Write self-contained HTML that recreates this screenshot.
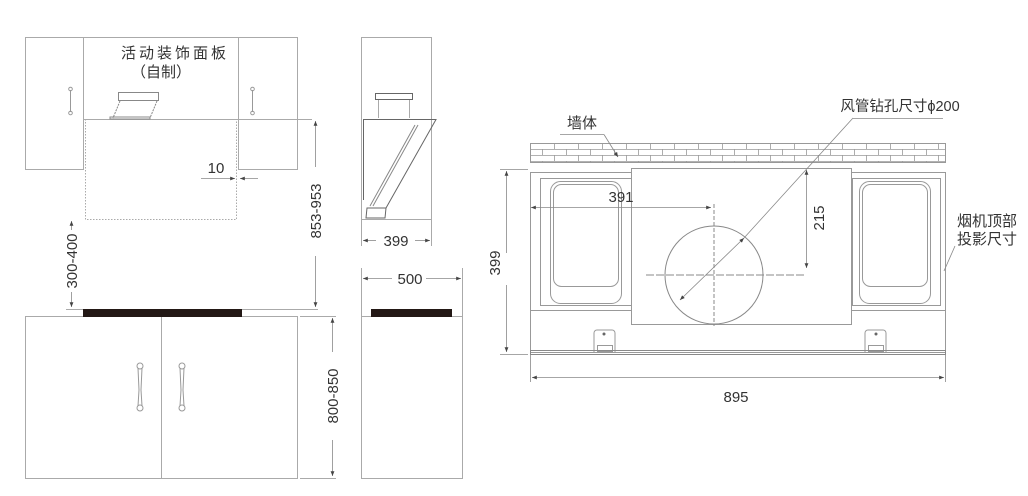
<!DOCTYPE html>
<html><head><meta charset="utf-8"><style>
html,body{margin:0;padding:0;background:#fff;}
svg{display:block;}
text{font-family:"Liberation Sans","Noto Sans CJK SC",sans-serif;fill:#333;}
</style></head><body>
<svg width="1028" height="496" viewBox="0 0 1028 496" xmlns="http://www.w3.org/2000/svg">
<defs>
<marker id="a" viewBox="0 0 10 10" refX="10" refY="5" markerWidth="6" markerHeight="6" orient="auto-start-reverse"><path d="M0,1 L10,5 L0,9 z" fill="#444"/></marker>
<pattern id="brick" x="530" y="143" width="24" height="12" patternUnits="userSpaceOnUse">
<rect width="24" height="12" fill="#fff"/>
<path d="M0,0.5H24M0,6.5H24M0.5,0V6M12.5,6V12" stroke="#999" stroke-width="0.8" fill="none"/>
</pattern>
</defs>
<g fill="none" stroke="#aaa" stroke-width="1">
<rect x="25.5" y="37.5" width="58" height="132"/>
<rect x="238.5" y="37.5" width="59" height="132"/>
<line x1="83" y1="37.5" x2="238" y2="37.5"/>
<line x1="83" y1="119.5" x2="312" y2="119.5"/>
<rect x="85.5" y="119.5" width="151" height="100" stroke-dasharray="1.5,1.5"/>
<rect x="118.5" y="92.5" width="40" height="8" stroke="#888"/>
<path d="M120,101 L113,118 M157,101 L150,118" stroke="#888" stroke-dasharray="2,1"/>
<rect x="110" y="117" width="40" height="2" stroke="#888"/>
<line x1="70.5" y1="90" x2="70.5" y2="112" stroke="#999"/><circle cx="70.5" cy="89" r="1.8" stroke="#999"/><circle cx="70.5" cy="113" r="1.8" stroke="#999"/>
<line x1="252.5" y1="90" x2="252.5" y2="112" stroke="#999"/><circle cx="252.5" cy="89" r="1.8" stroke="#999"/><circle cx="252.5" cy="113" r="1.8" stroke="#999"/>
<rect x="25.5" y="316.5" width="272" height="162"/>
<line x1="161.5" y1="316" x2="161.5" y2="478"/>
<path d="M138,368 L139,390 L138,406 M142,368 L141,390 L142,406" stroke="#999"/><circle cx="140" cy="366" r="3" stroke="#999"/><circle cx="140" cy="408" r="3" stroke="#999"/>
<path d="M180,368 L181,390 L180,406 M184,368 L183,390 L184,406" stroke="#999"/><circle cx="182" cy="366" r="3" stroke="#999"/><circle cx="182" cy="408" r="3" stroke="#999"/>
<line x1="66" y1="309.5" x2="83" y2="309.5"/>
<line x1="242" y1="309.5" x2="318" y2="309.5"/>
<line x1="300" y1="316.5" x2="336" y2="316.5"/>
<line x1="300" y1="478.5" x2="336" y2="478.5"/>
<rect x="361.5" y="37.5" width="70" height="182"/>
<rect x="361.5" y="316.5" width="101" height="162"/>
<line x1="361.5" y1="219" x2="361.5" y2="246"/><line x1="431.5" y1="219" x2="431.5" y2="246"/>
<line x1="361.5" y1="268" x2="361.5" y2="316"/><line x1="462.5" y1="268" x2="462.5" y2="316"/>
</g>
<g fill="none" stroke="#666" stroke-width="1">
<rect x="375.5" y="93.5" width="37" height="6"/>
<line x1="378.5" y1="100" x2="378.5" y2="118" stroke="#aaa"/><line x1="409.5" y1="100" x2="409.5" y2="118" stroke="#aaa"/>
<path d="M364,119.5 L436,119.5 L386,208 L367,208 L366,218 L385,218 L386,208"/>
<line x1="363.5" y1="119" x2="363.5" y2="200"/>
<path d="M415,125 L370,206 M418,125 L373,206" stroke="#888"/>
</g>
<rect x="83" y="309" width="159" height="8" fill="#231815"/>
<rect x="371" y="309" width="81" height="8" fill="#231815"/>
<g stroke="#888" stroke-width="0.8" fill="none">
<line x1="315.5" y1="121" x2="315.5" y2="167" marker-start="url(#a)"/>
<line x1="315.5" y1="256" x2="315.5" y2="307" marker-end="url(#a)"/>
<line x1="71.5" y1="221" x2="71.5" y2="230" marker-start="url(#a)"/>
<line x1="71.5" y1="292" x2="71.5" y2="307" marker-end="url(#a)"/>
<line x1="332.5" y1="318" x2="332.5" y2="352" marker-start="url(#a)"/>
<line x1="332.5" y1="440" x2="332.5" y2="476" marker-end="url(#a)"/>
<line x1="201" y1="178.5" x2="235" y2="178.5" marker-end="url(#a)"/>
<line x1="258" y1="178.5" x2="240" y2="178.5" marker-end="url(#a)"/>
<line x1="363" y1="240.5" x2="376" y2="240.5" marker-start="url(#a)"/>
<line x1="415" y1="240.5" x2="430" y2="240.5" marker-end="url(#a)"/>
<line x1="363" y1="278.5" x2="392" y2="278.5" marker-start="url(#a)"/>
<line x1="426" y1="278.5" x2="461" y2="278.5" marker-end="url(#a)"/>
</g>
<text x="175" y="58" font-size="15" letter-spacing="3" text-anchor="middle">活动装饰面板</text>
<text x="161" y="77" font-size="15" text-anchor="middle">（自制）</text>
<text x="216" y="173" font-size="15" text-anchor="middle">10</text>
<text x="396" y="246" font-size="15" text-anchor="middle">399</text>
<text x="410" y="284" font-size="15" text-anchor="middle">500</text>
<text transform="translate(321,211) rotate(-90)" font-size="15" text-anchor="middle">853-953</text>
<text transform="translate(77,261) rotate(-90)" font-size="15" text-anchor="middle">300-400</text>
<text transform="translate(338,396) rotate(-90)" font-size="15" text-anchor="middle">800-850</text>
<rect x="530.5" y="143.5" width="415" height="19" fill="url(#brick)" stroke="#999"/>
<g fill="none" stroke="#999" stroke-width="1">
<rect x="530.5" y="172.5" width="415" height="180"/>
<line x1="530" y1="310.5" x2="945" y2="310.5"/>
<rect x="540.5" y="178.5" width="91" height="127"/>
<rect x="852.5" y="178.5" width="88" height="127"/>
<rect x="550.5" y="181.5" width="71" height="122" rx="10"/>
<rect x="553.5" y="184.5" width="65" height="102" rx="8"/>
<rect x="859.5" y="181.5" width="71" height="122" rx="10"/>
<rect x="862.5" y="184.5" width="65" height="102" rx="8"/>
<rect x="631.5" y="168.5" width="220" height="156" fill="#fff"/>
<circle cx="714" cy="275" r="49" stroke="#888"/>
<line x1="714" y1="204" x2="714" y2="326" stroke="#888" stroke-dasharray="4,2"/>
<line x1="646" y1="275" x2="805" y2="275" stroke="#888" stroke-dasharray="8,2"/>
<path d="M594,352 V333 a3,3 0 0 1 3,-3 H612 a3,3 0 0 1 3,3 V352"/>
<rect x="597.5" y="345.5" width="15" height="6"/>
<path d="M865,352 V333 a3,3 0 0 1 3,-3 H883 a3,3 0 0 1 3,3 V352"/>
<rect x="868.5" y="345.5" width="15" height="6"/>
<rect x="530.5" y="350.5" width="415" height="4" stroke="#888"/>
</g>
<circle cx="604" cy="334" r="1.5" fill="#666"/><circle cx="876" cy="334" r="1.5" fill="#666"/>
<g stroke="#888" stroke-width="0.8" fill="none">
<line x1="506.5" y1="171" x2="506.5" y2="253" marker-start="url(#a)"/>
<line x1="506.5" y1="285" x2="506.5" y2="352" marker-end="url(#a)"/>
<line x1="500" y1="169.5" x2="528" y2="169.5"/>
<line x1="500" y1="354.5" x2="528" y2="354.5"/>
<line x1="531" y1="207.5" x2="711" y2="207.5" marker-start="url(#a)" marker-end="url(#a)"/>
<line x1="806.5" y1="170" x2="806.5" y2="268" marker-start="url(#a)" marker-end="url(#a)"/>
<line x1="530.5" y1="355" x2="530.5" y2="382"/><line x1="945.5" y1="355" x2="945.5" y2="382"/>
<line x1="532" y1="377.5" x2="944" y2="377.5" marker-start="url(#a)" marker-end="url(#a)"/>
<line x1="680" y1="300" x2="744" y2="238" marker-start="url(#a)" marker-end="url(#a)"/>
<line x1="744" y1="238" x2="853" y2="118"/>
<line x1="853" y1="118.5" x2="943" y2="118.5"/>
<line x1="560" y1="134.5" x2="604" y2="134.5"/>
<line x1="604" y1="134.5" x2="618" y2="157" marker-end="url(#a)"/>
<line x1="955" y1="246" x2="944" y2="271"/>
</g>
<text x="900" y="111" font-size="14.5" text-anchor="middle">风管钻孔尺寸ϕ200</text>
<text x="582" y="128" font-size="15" text-anchor="middle">墙体</text>
<text x="957" y="226" font-size="15">烟机顶部</text>
<text x="957" y="244" font-size="15">投影尺寸</text>
<text x="621" y="202" font-size="15" text-anchor="middle">391</text>
<text x="736" y="402" font-size="15" text-anchor="middle">895</text>
<text transform="translate(500,263) rotate(-90)" font-size="15" text-anchor="middle">399</text>
<text transform="translate(824,218) rotate(-90)" font-size="15" text-anchor="middle">215</text>
</svg>
</body></html>
